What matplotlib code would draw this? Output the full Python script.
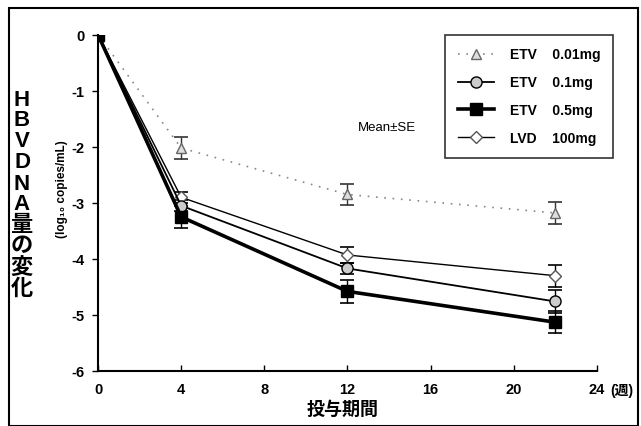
import matplotlib.pyplot as plt
from matplotlib.patches import Rectangle

plt.rcParams['font.family'] = ['Liberation Sans', 'Noto Sans CJK JP', 'DejaVu Sans']

weeks = [0, 4, 12, 22]
etv001 = [0, -2.02, -2.85, -3.18]
etv001_se = [0, 0.2, 0.18, 0.2]
etv01 = [0, -3.05, -4.17, -4.76]
etv01_se = [0, 0.1, 0.1, 0.2]
etv05 = [0, -3.25, -4.58, -5.13]
etv05_se = [0, 0.2, 0.2, 0.2]
lvd = [0, -2.9, -3.93, -4.3]
lvd_se = [0, 0.1, 0.15, 0.2]

x_ticks = [0, 4, 8, 12, 16, 20, 24]
y_ticks = [0, -1, -2, -3, -4, -5, -6]
ylabel_chars = list("HBVDNA量の変化")


def main():
    fig = plt.figure(figsize=(6.41, 4.27), dpi=100)
    ax = fig.add_axes([0.153, 0.129, 0.778, 0.787])

    eb = dict(capsize=5, elinewidth=1, capthick=1.2)
    ax.errorbar(weeks, etv001, yerr=etv001_se, color='#888888', ls=(0, (1, 4)), lw=1.2,
                marker='^', ms=7, mfc='#dddddd', mec='#666666', ecolor='#333333',
                label='ETV    0.01mg', **eb)
    ax.errorbar(weeks, lvd, yerr=lvd_se, color='black', lw=1.0,
                marker='D', ms=6, mfc='white', mec='#555555', ecolor='black',
                label='LVD    100mg', **eb)
    ax.errorbar(weeks, etv01, yerr=etv01_se, color='black', lw=1.3,
                marker='o', ms=8, mfc='#cccccc', mec='black', ecolor='black',
                label='ETV    0.1mg', **eb)
    ax.errorbar(weeks, etv05, yerr=etv05_se, color='black', lw=2.6,
                marker='s', ms=8, mfc='black', mec='black', ecolor='black',
                label='ETV    0.5mg', **eb)

    ax.set_xlim(0, 24)
    ax.set_ylim(-6, 0)
    ax.set_xticks(x_ticks)
    ax.set_xticklabels([str(t) for t in x_ticks], fontsize=10.5, fontweight='bold')
    ax.set_yticks(y_ticks)
    ax.set_yticklabels([str(t) for t in y_ticks], fontsize=10.5, fontweight='bold')
    ax.tick_params(axis='y', direction='out', length=4, width=1, pad=6)
    ax.tick_params(axis='x', direction='in', length=4, width=1, pad=8)
    ax.spines['top'].set_visible(False)
    ax.spines['right'].set_visible(False)
    ax.spines['left'].set_linewidth(1.5)
    ax.spines['bottom'].set_linewidth(1.5)

    fig.text(622 / 641, 1 - 391 / 427, '(週)', fontsize=10, fontweight='bold',
             ha='center', va='center')
    fig.text(343 / 641, 1 - 410 / 427, '投与期間', fontsize=13, fontweight='bold',
             ha='center', va='center')

    for i, ch in enumerate(ylabel_chars):
        fig.text(22 / 641, 1 - (100 + i * 21) / 427, ch, fontsize=16,
                 fontweight='bold', ha='center', va='center')
    fig.text(62 / 641, 1 - 189 / 427, '(log₁₀ copies/mL)', fontsize=8.5,
             fontweight='bold', rotation=90, ha='center', va='center')

    ax.text(12.5, -1.64, 'Mean±SE', fontsize=9.5, ha='left', va='center')

    handles, labels = ax.get_legend_handles_labels()
    order = [0, 2, 3, 1]
    leg = fig.legend([handles[i][0] for i in order], [labels[i] for i in order],
                     loc='upper left', bbox_to_anchor=(445 / 641, 1 - 36 / 427),
                     prop={'weight': 'bold', 'size': 10},
                     frameon=True, fancybox=False, edgecolor='black',
                     handlelength=2.6, labelspacing=1.0, borderpad=0.9,
                     handletextpad=1.2, borderaxespad=0)
    leg.get_frame().set_linewidth(1.2)

    fig.patches.append(Rectangle((9 / 641, 0), 629 / 641, 1 - 9 / 427,
                                 transform=fig.transFigure, fill=False,
                                 edgecolor='black', lw=1.5))

    fig.savefig('out.png', dpi=100)


if __name__ == '__main__':
    main()
